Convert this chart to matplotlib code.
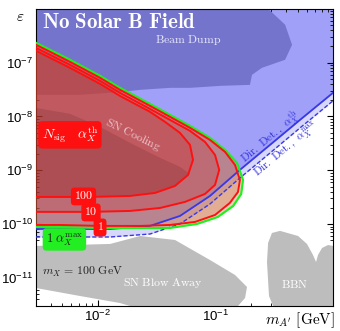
import numpy as np
import matplotlib.pyplot as plt
from matplotlib.patches import Polygon
from matplotlib.ticker import LogLocator, NullFormatter

plt.rcParams['mathtext.fontset'] = 'cm'
plt.rcParams['font.family'] = ['Liberation Sans', 'DejaVu Sans']

# axis ranges
m_min, m_max = 3e-3, 1.0
eps_min, eps_max = 3.02e-12, 9.9e-7

# beam dump region
bd_m = [3e-3, 0.281, 0.392, 0.449, 0.392, 0.249, 0.205, 0.197, 0.110, 6.10e-2, 4.12e-2, 2.30e-2, 1.61e-2, 7.10e-3, 3e-3]
bd_eps = [1e-6, 1e-6, 5.05e-7, 2.14e-7, 1.13e-7, 8.0e-8, 5.93e-8, 3.86e-8, 3.70e-8, 3.40e-8, 3.40e-8, 3.12e-8, 2.86e-8, 2.52e-8, 2.52e-8]

# direct detection limits
dd_m = [3e-3, 1.28e-2, 2.79e-2, 5.01e-2, 9.01e-2, 0.162, 0.292, 0.525, 1.0]
dd_th_eps = [8.14e-11, 8.14e-11, 9.27e-11, 1.42e-10, 3.34e-10, 1.02e-9, 2.97e-9, 8.65e-9, 2.75e-8]
dd_max_eps = [5.78e-11, 5.78e-11, 6.56e-11, 1.01e-10, 2.37e-10, 7.22e-10, 2.10e-9, 6.14e-9, 1.95e-8]

# signal contours, alpha_X^th
n1_m = [3.0e-3, 3.94e-3, 5.83e-3, 1.05e-2, 1.55e-2, 2.79e-2, 4.12e-2, 6.10e-2, 9.01e-2, 0.121, 0.147, 0.162, 0.156, 0.133, 9.95e-2, 6.73e-2, 4.12e-2, 2.30e-2, 1.05e-2, 4.8e-3, 3.0e-3]
n1_eps = [2.14e-7, 1.59e-7, 1.03e-7, 5.21e-8, 3.12e-8, 1.57e-8, 9.84e-9, 6.14e-9, 3.67e-9, 2.20e-9, 1.26e-9, 6.63e-10, 3.97e-10, 2.48e-10, 1.48e-10, 1.10e-10, 9.66e-11, 9.27e-11, 9.27e-11, 9.66e-11, 9.66e-11]
n10_m = [3.0e-3, 5.83e-3, 1.05e-2, 1.55e-2, 2.79e-2, 4.12e-2, 6.10e-2, 8.18e-2, 9.95e-2, 0.108, 9.95e-2, 8.18e-2, 5.53e-2, 3.40e-2, 1.89e-2, 8.63e-3, 3.0e-3]
n10_eps = [1.88e-7, 9.1e-8, 4.59e-8, 2.75e-8, 1.38e-8, 8.65e-9, 5.40e-9, 3.37e-9, 1.93e-9, 1.02e-9, 5.36e-10, 3.64e-10, 2.59e-10, 2.0e-10, 1.76e-10, 1.69e-10, 1.69e-10]
n100_m = [3.0e-3, 5.83e-3, 1.05e-2, 1.55e-2, 2.79e-2, 3.74e-2, 5.01e-2, 6.10e-2, 6.47e-2, 5.87e-2, 4.55e-2, 3.08e-2, 1.89e-2, 8.63e-3, 3.0e-3]
n100_eps = [1.66e-7, 8.0e-8, 4.03e-8, 2.41e-8, 1.22e-8, 7.94e-9, 4.96e-9, 2.97e-9, 1.56e-9, 8.20e-10, 5.13e-10, 3.80e-10, 3.34e-10, 3.20e-10, 3.20e-10]

# signal contour, alpha_X^max
nmax_m = [3.0e-3, 5.83e-3, 1.05e-2, 1.55e-2, 2.79e-2, 4.12e-2, 6.10e-2, 9.01e-2, 0.121, 0.153, 0.172, 0.166, 0.142, 0.105, 7.0e-2, 4.12e-2, 2.30e-2, 1.05e-2, 4.8e-3, 3.0e-3]
nmax_eps = [2.33e-7, 1.13e-7, 5.69e-8, 3.40e-8, 1.71e-8, 1.07e-8, 6.69e-9, 4.0e-9, 2.39e-9, 1.37e-9, 6.63e-10, 3.64e-10, 2.18e-10, 1.36e-10, 1.01e-10, 8.50e-11, 8.50e-11, 8.50e-11, 8.87e-11, 8.87e-11]

# SN cooling (inner part)
snc_m = [3.0e-3, 5.83e-3, 1.05e-2, 1.89e-2, 3.40e-2, 5.01e-2, 6.10e-2, 4.55e-2, 3.08e-2, 1.89e-2, 8.63e-3, 3.0e-3]
snc_eps = [1.44e-8, 1.12e-8, 6.41e-9, 3.23e-9, 1.70e-9, 1.16e-9, 8.57e-10, 5.13e-10, 3.80e-10, 3.34e-10, 3.20e-10, 3.20e-10]

# SN blow away
sba_m = [3.0e-3, 1.28e-2, 2.30e-2, 4.55e-2, 9.01e-2, 0.147, 0.186, 0.179, 0.156, 1.89e-2, 1.55e-2, 7.10e-3, 3.0e-3]
sba_eps = [3.94e-11, 4.29e-11, 6.03e-11, 5.08e-11, 2.16e-11, 1.14e-11, 6.81e-12, 4.25e-12, 3.02e-12, 3.02e-12, 3.43e-12, 4.63e-12, 6.52e-12]

# BBN
bbn_m = [0.310, 0.286, 0.275, 0.281, 0.303, 0.355, 0.505, 0.601, 0.676, 0.718, 0.746, 0.807, 0.908, 1.0, 1.0]
bbn_eps = [3.02e-12, 4.63e-12, 1.98e-11, 4.48e-11, 6.86e-11, 7.50e-11, 6.03e-11, 4.29e-11, 2.68e-11, 1.98e-11, 2.68e-11, 3.61e-11, 4.10e-11, 3.94e-11, 3.02e-12]

fig = plt.figure(figsize=(3.4, 3.31), dpi=100)
ax = fig.add_axes([36 / 340, 1 - 306 / 331, 297 / 340, 297 / 331])
ax.set_xscale('log')
ax.set_yscale('log')
ax.set_xlim(m_min, m_max)
ax.set_ylim(eps_min, eps_max)

light_blue = '#a0a0f8'
dark_blue = '#7474cc'
grey = '#bdbdbd'

ax.fill_between(dd_m, dd_th_eps, 1e-5, color=light_blue, lw=0, zorder=1)
ax.fill_between(dd_m, dd_max_eps, dd_th_eps, color='#6060e8', alpha=0.25, lw=0, zorder=1)
ax.add_patch(Polygon(np.c_[bd_m, bd_eps], closed=True, fc=dark_blue, ec='none', zorder=2))
ax.add_patch(Polygon(np.c_[sba_m, sba_eps], closed=True, fc=grey, ec='none', zorder=2))
ax.add_patch(Polygon(np.c_[bbn_m, bbn_eps], closed=True, fc=grey, ec='none', zorder=2))

ax.add_patch(Polygon(np.c_[nmax_m, nmax_eps], closed=True, fc='#c8a860', alpha=0.45, ec='none', zorder=3))
for mm, ee in [(n1_m, n1_eps), (n10_m, n10_eps), (n100_m, n100_eps)]:
    ax.add_patch(Polygon(np.c_[mm, ee], closed=True, fc='#d01818', alpha=0.22, ec='none', zorder=4))
ax.add_patch(Polygon(np.c_[snc_m, snc_eps], closed=True, fc='#401010', alpha=0.15, ec='none', zorder=5))

ax.plot(dd_m, dd_th_eps, color='#3838e8', lw=1.3, zorder=6)
ax.plot(dd_m, dd_max_eps, color='#3838e8', lw=1.0, ls=(0, (3, 1.5)), zorder=6)

ax.plot(nmax_m, nmax_eps, color='#22ee22', lw=1.6, zorder=7)
for mm, ee in [(n1_m, n1_eps), (n10_m, n10_eps), (n100_m, n100_eps)]:
    ax.plot(mm, ee, color='#ff1010', lw=1.4, zorder=8)

# texts
ax.text(0.02, 0.985, r'$\mathbf{No\ Solar\ B\ Field}$', transform=ax.transAxes, color='white',
        fontsize=15, va='top', ha='left', zorder=10)
ax.text(5.87e-2, 2.65e-7, r'$\mathrm{Beam\ Dump}$', color='#e8e8ff', fontsize=8.5, ha='center', va='center', zorder=10)
ax.text(2.0e-2, 4.55e-9, r'$\mathrm{SN\ Cooling}$', color='#f0c8d0', fontsize=8.5, rotation=-26,
        ha='center', va='center', zorder=10)
ax.text(0.298, 4.0e-9, r'$\mathrm{Dir.\ Det.,}\ \alpha_X^{\rm th}$', color='#3030e0', fontsize=8, rotation=40,
        ha='center', va='center', zorder=10)
ax.text(0.407, 2.39e-9, r'$\mathrm{Dir.\ Det.,}\ \alpha_X^{\rm max}$', color='#3030e0', fontsize=8, rotation=40,
        ha='center', va='center', zorder=10)
ax.text(3.6e-2, 8.07e-12, r'$\mathrm{SN\ Blow\ Away}$', color='white', fontsize=8.5, ha='center', va='center', zorder=10)
ax.text(0.475, 7.4e-12, r'$\mathrm{BBN}$', color='white', fontsize=8.5, ha='center', va='center', zorder=10)
ax.text(3.4e-3, 1.29e-11, r'$m_X\,=\,100\ \mathrm{GeV}$', color='#202020', fontsize=8.5, ha='left', va='center', zorder=10)

red_box = dict(boxstyle='round,pad=0.25,rounding_size=0.3', fc='#ff1010', ec='none')
ax.text(5.83e-3, 4.55e-9, r'$N_{\rm sig}\quad \alpha_X^{\rm th}$', color='white', fontsize=10,
        ha='center', va='center', bbox=red_box, zorder=11)
ax.text(7.6e-3, 3.27e-10, r'$100$', color='white', fontsize=8.5, ha='center', va='center', bbox=red_box, zorder=11)
ax.text(8.8e-3, 1.65e-10, r'$10$', color='white', fontsize=8.5, ha='center', va='center', bbox=red_box, zorder=11)
ax.text(1.05e-2, 8.68e-11, r'$1$', color='white', fontsize=8.5, ha='center', va='center', bbox=red_box, zorder=11)
green_box = dict(boxstyle='round,pad=0.25,rounding_size=0.3', fc='#22ee22', ec='none')
ax.text(5.23e-3, 5.2e-11, r'$1\ \alpha_X^{\rm max}$', color='#202020', fontsize=9, ha='center', va='center',
        bbox=green_box, zorder=11)

ax.set_xticks([1e-2, 1e-1])
ax.set_yticks([1e-11, 1e-10, 1e-9, 1e-8, 1e-7])
ax.xaxis.set_minor_locator(LogLocator(subs=np.arange(2, 10)))
ax.yaxis.set_minor_locator(LogLocator(subs=np.arange(2, 10)))
ax.xaxis.set_minor_formatter(NullFormatter())
ax.yaxis.set_minor_formatter(NullFormatter())
ax.tick_params(which='both', direction='in', top=True, right=True, labelsize=9.5, pad=2)
ax.tick_params(which='major', length=4)
ax.tick_params(which='minor', length=2)

fig.text(20 / 340, 1 - 17 / 331, r'$\varepsilon$', fontsize=11, ha='center', va='center')
fig.text(335 / 340, 1 - 320 / 331, r'$m_{A^\prime}\ [\mathrm{GeV}]$', fontsize=11, ha='right', va='center')

fig.savefig('out.png', dpi=100)
